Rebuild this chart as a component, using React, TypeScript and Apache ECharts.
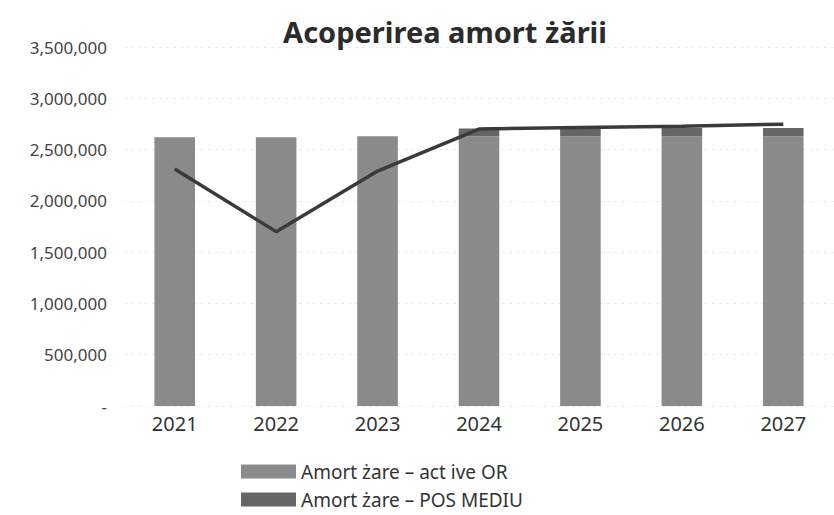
import React, { useEffect, useRef } from "react";
import * as echarts from "echarts";

const categories = ["2021", "2022", "2023", "2024", "2025", "2026", "2027"];
const activeOR = [2620000, 2620000, 2630000, 2630000, 2630000, 2630000, 2630000];
const posMediu = [0, 0, 0, 75000, 75000, 80000, 80000];
const coverage = [2310000, 1700000, 2290000, 2700000, 2715000, 2728000, 2748000];

const titleText = "Acoperirea amort żării";
const nameOR = "Amort żare – act ive OR";
const namePOS = "Amort żare – POS MEDIU";

export default function App() {
  const ref = useRef<HTMLDivElement>(null);
  useEffect(() => {
    if (!ref.current) return;
    const chart = echarts.init(ref.current, null, { renderer: "svg" });
    const font = "'Noto Sans', 'Open Sans', sans-serif";
    chart.setOption({
      animation: false,
      backgroundColor: "#ffffff",
      title: {
        text: titleText,
        left: 440,
        textAlign: "center",
        top: 12,
        textStyle: { fontFamily: font, fontSize: 29, fontWeight: "bold", color: "#2b2b2b" },
      },
      grid: { left: 124, right: -23, top: 47, bottom: 109, containLabel: false },
      legend: {
        data: [nameOR, namePOS],
        orient: "vertical",
        left: 236,
        top: 457,
        height: 80,
        itemWidth: 55,
        itemHeight: 14,
        itemGap: 9,
        icon: "rect",
        textStyle: { fontFamily: font, fontSize: 19, color: "#333" },
      },
      xAxis: {
        type: "category",
        data: categories,
        axisLine: { show: false },
        axisTick: { show: false },
        axisLabel: { fontFamily: font, fontSize: 20, color: "#333", margin: 7 },
      },
      yAxis: {
        type: "value",
        min: 0,
        max: 3500000,
        interval: 500000,
        axisLine: { show: false },
        axisTick: { show: false },
        axisLabel: {
          fontFamily: font,
          fontSize: 17,
          color: "#444",
          margin: 17,
          formatter: (v: number) => (v === 0 ? "-" : v.toLocaleString("en-US")),
        },
        splitLine: { lineStyle: { color: "#ececec", type: [3, 4], width: 1 } },
      },
      series: [
        {
          name: nameOR,
          type: "bar",
          stack: "a",
          data: activeOR,
          barWidth: "40%",
          itemStyle: { color: "#8a8a8a" },
        },
        {
          name: namePOS,
          type: "bar",
          stack: "a",
          data: posMediu,
          barWidth: "40%",
          itemStyle: { color: "#666666" },
        },
        {
          name: "line",
          type: "line",
          data: coverage,
          symbol: "none",
          lineStyle: { color: "#3a3a3a", width: 3.5 },
          itemStyle: { color: "#3a3a3a" },
        },
      ],
    });
    return () => chart.dispose();
  }, []);
  return <div ref={ref} style={{ width: 834, height: 515, position: "absolute", left: 0, top: 0 }} />;
}
